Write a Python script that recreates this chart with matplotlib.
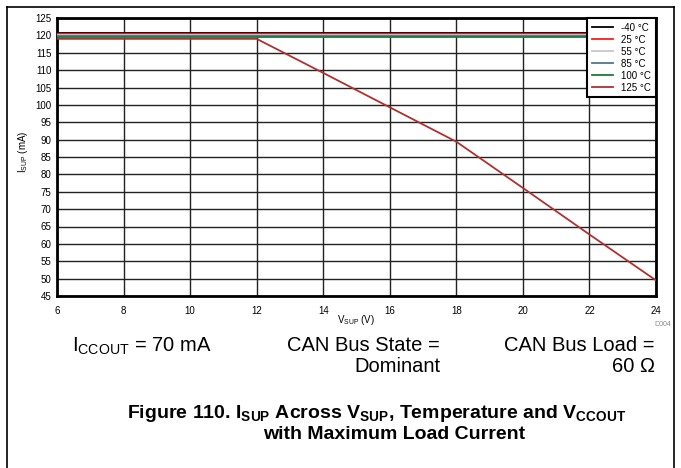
import matplotlib
matplotlib.use("Agg")
import matplotlib.pyplot as plt
from matplotlib.lines import Line2D

plt.rcParams['font.family'] = ['Liberation Sans', 'DejaVu Sans']
plt.rcParams['mathtext.default'] = 'regular'

# data
vsup = [6, 8, 10, 12, 14, 16, 18, 20, 22, 24]
temps = ['-40 °C', '25 °C', '55 °C', '85 °C', '100 °C', '125 °C']
isup_m40 = [120.8] * 10
isup_25 = [120.5] * 10
isup_55 = [120.2] * 10
isup_85 = [119.8] * 10
isup_100 = [119.6] * 10
isup_125 = [119.0, 119.0, 119.0, 119.0, 109.2, 99.3, 89.4, 76.1, 62.7, 49.5]
series = [isup_m40, isup_25, isup_55, isup_85, isup_100, isup_125]
colors = ['#000000', '#ff1a1a', '#c8c8c8', '#4f7590', '#1f7a3f', '#b03030']

W, H = 681, 468
fig = plt.figure(figsize=(W / 100, H / 100), dpi=100)
ax = fig.add_axes([57 / W, 1 - 296 / H, (656 - 57) / W, (296 - 18) / H])

for y, c, lab in zip(series, colors, temps):
    ax.plot(vsup, y, color=c, lw=1.3, label=lab, zorder=3)

ax.set_xlim(6, 24)
ax.set_ylim(45, 125)
ax.set_xticks(range(6, 25, 2))
ax.set_yticks(range(45, 126, 5))
ax.grid(True, color='#222222', lw=1.0)
ax.set_axisbelow(True)
ax.tick_params(length=0, labelsize=7)
ax.tick_params(axis='x', pad=7)
ax.tick_params(axis='y', pad=4)
for s in ax.spines.values():
    s.set_linewidth(2)
    s.set_color('black')

leg = ax.legend(loc='upper right', borderaxespad=0, fontsize=7, frameon=True,
                fancybox=False, handlelength=2.2, handletextpad=0.8,
                labelspacing=0.2, borderpad=0.5)
leg.get_frame().set_edgecolor('black')
leg.get_frame().set_linewidth(1.5)
leg.get_frame().set_alpha(1)

def fx(px):
    return px / W

def fy(py):
    return 1 - py / H

fig.text(fx(23), fy(152), r'I$_{SUP}$ (mA)', rotation=90, fontsize=7,
         ha='center', va='center')
fig.text(fx(356), fy(320), r'V$_{SUP}$ (V)', fontsize=7, ha='center', va='center')
fig.text(fx(671), fy(324), 'D004', fontsize=5, color='#888888', ha='right', va='center')

# test condition notes
fig.text(fx(72), fy(352), r'I$_{CCOUT}$ = 70 mA', fontsize=14.5, ha='left', va='baseline')
fig.text(fx(440), fy(351), 'CAN Bus State =', fontsize=14.5, ha='right', va='baseline')
fig.text(fx(440), fy(372), 'Dominant', fontsize=14.5, ha='right', va='baseline')
fig.text(fx(655), fy(351), 'CAN Bus Load =', fontsize=14.5, ha='right', va='baseline')
fig.text(fx(655), fy(372), '60 Ω', fontsize=14.5, ha='right', va='baseline')

fig.text(fx(377), fy(418),
         r'Figure 110. I$_{SUP}$ Across V$_{SUP}$, Temperature and V$_{CCOUT}$',
         fontsize=14, fontweight='bold', ha='center', va='baseline')
fig.text(fx(394), fy(439), 'with Maximum Load Current',
         fontsize=14, fontweight='bold', ha='center', va='baseline')

# outer page frame
fig.add_artist(Line2D([fx(7), fx(7)], [fy(7), 0], color='black', lw=1.2))
fig.add_artist(Line2D([fx(7), fx(674)], [fy(7), fy(7)], color='black', lw=1.2))
fig.add_artist(Line2D([fx(674), fx(674)], [fy(7), 0], color='black', lw=1.2))

fig.savefig('out.png', dpi=100)
